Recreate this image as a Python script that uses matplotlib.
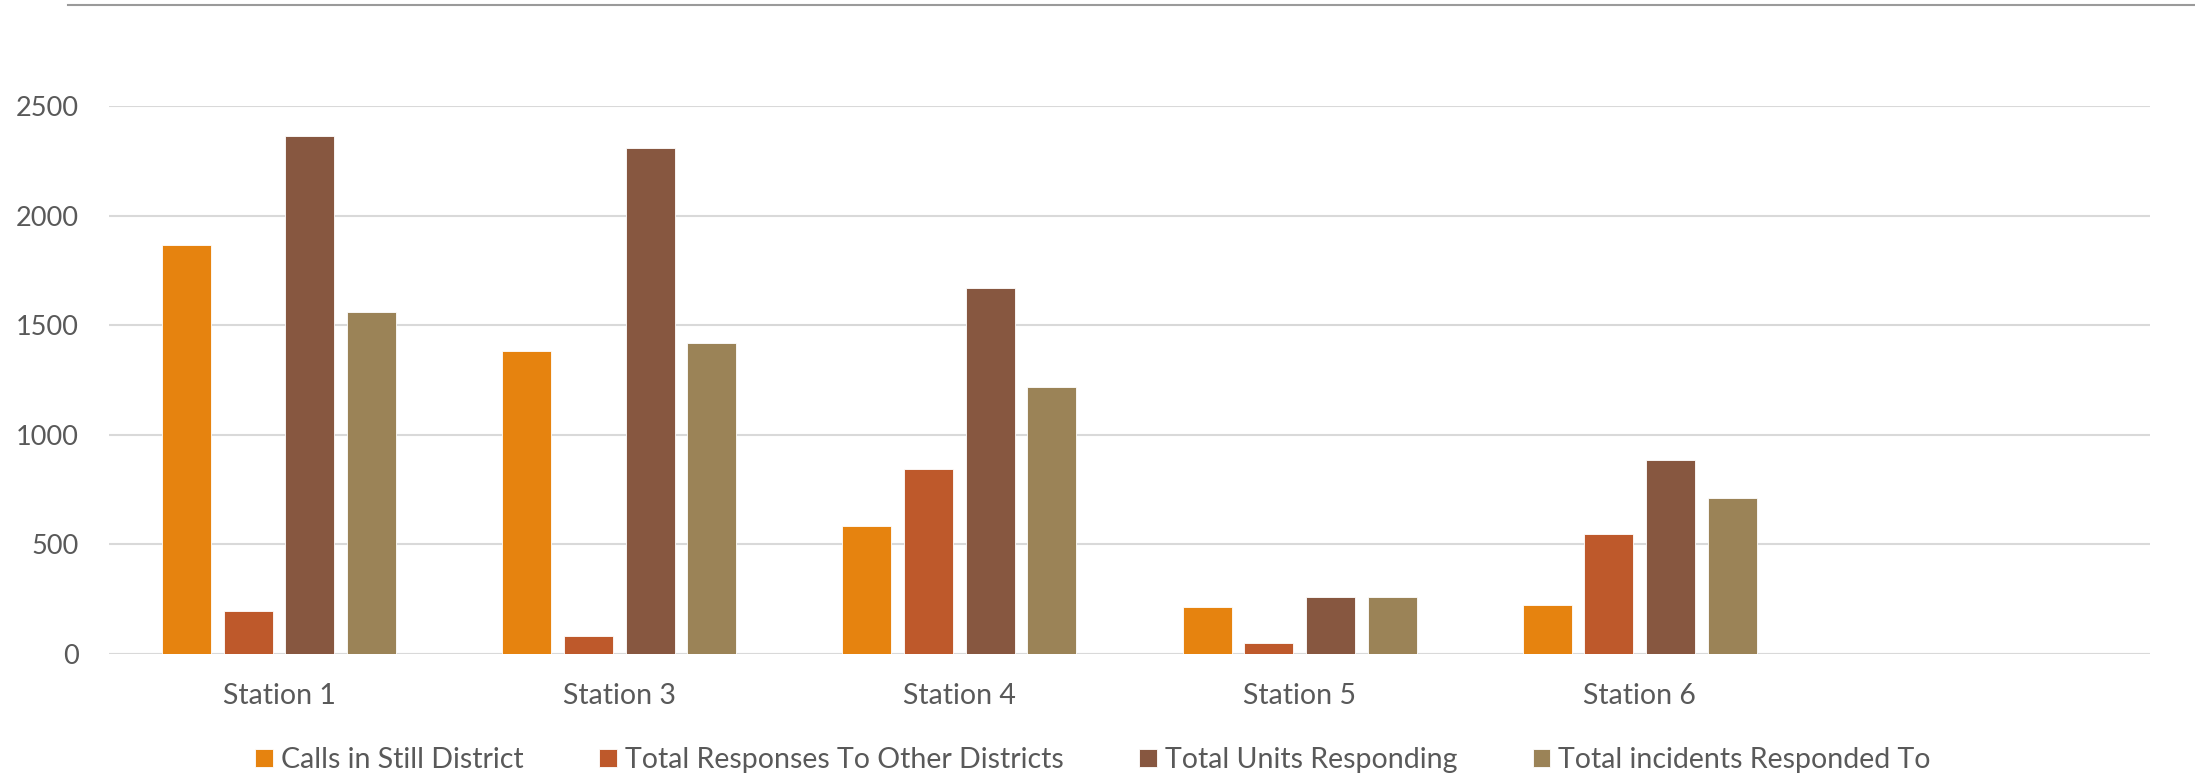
import matplotlib
matplotlib.use('Agg')
import matplotlib.pyplot as plt
import numpy as np
from matplotlib.lines import Line2D

plt.rcParams['font.family'] = ['Lato', 'DejaVu Sans']

# data
stations = ['Station 1', 'Station 3', 'Station 4', 'Station 5', 'Station 6', '']
series = ['Calls in Still District', 'Total Responses To Other Districts',
          'Total Units Responding', 'Total incidents Responded To']
calls_still = [1866, 1382, 582, 213, 224]
resp_other = [195, 81, 843, 50, 546]
units_resp = [2365, 2307, 1671, 260, 884]
incidents = [1559, 1417, 1217, 258, 710]
colors = ['#E6830F', '#BE592B', '#875740', '#9B8357']

values = [calls_still, resp_other, units_resp, incidents]

fig = plt.figure(figsize=(21.95, 7.75), dpi=100)
ax = fig.add_axes([109 / 2195, 1 - 654 / 775, (2150 - 109) / 2195, (654 - 106) / 775])

x = np.arange(len(stations))
w = 0.144
step = 0.1813
for i, (vals, c, name) in enumerate(zip(values, colors, series)):
    xs = x[:len(vals)] + (i - 1.5) * step
    ax.bar(xs, vals, width=w, color=c, label=name, zorder=3,
           edgecolor='white', linewidth=0.6)

ax.set_xlim(-0.5, len(stations) - 0.5)
ax.set_ylim(0, 2500)
ax.set_yticks([0, 500, 1000, 1500, 2000, 2500])
ax.set_xticks(x)
ax.set_xticklabels(stations)
ax.yaxis.grid(True, color='#D9D9D9', linewidth=1.5, zorder=0)
ax.set_axisbelow(True)
for s in ['top', 'right', 'left', 'bottom']:
    ax.spines[s].set_visible(False)
ax.axhline(0, color='#D9D9D9', linewidth=2.2, zorder=2)
ax.tick_params(axis='both', length=0, labelcolor='#595959')
ax.tick_params(axis='x', pad=21, labelsize=20.5)
ax.tick_params(axis='y', pad=22, labelsize=19.5)

# thin border line at the top of the chart
fig.add_artist(Line2D([68 / 2195, 1.0], [1 - 5 / 775, 1 - 5 / 775],
                      color='#9A9A9A', linewidth=1.5, transform=fig.transFigure))

fig.legend(loc='center', bbox_to_anchor=(0.498, 1 - 760 / 775), ncol=4,
           frameon=False, fontsize=20.5, labelcolor='#595959',
           handlelength=0.62, handleheight=0.62, handletextpad=0.28,
           columnspacing=2.65)

fig.savefig('out.png', dpi=100)
